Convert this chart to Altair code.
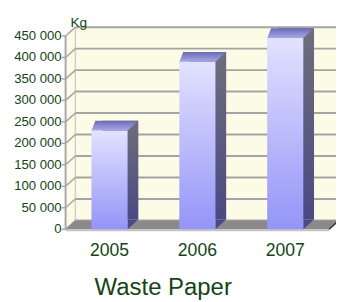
import altair as alt
import pandas as pd

# ---- data ----
years = ["2005", "2006", "2007"]
values = [230000, 390000, 445000]
tick_values = [0, 50000, 100000, 150000, 200000, 250000, 300000, 350000, 400000, 450000]
tick_labels = ["0", "50 000", "100 000", "150 000", "200 000", "250 000",
               "300 000", "350 000", "400 000", "450 000"]
unit_label = "Kg"
title_text = "Waste Paper"

# ---- styling / geometry ----
W, H = 270, 198
DX, DY = 10, -9      # depth of walls
BX, BY = 11, -10     # depth of bars
BAR_W = 37
HW = BAR_W / 2
TXT = "#154515"
FONT = "Liberation Sans"
WALL = "#fcfce6"
GRID = "#a4a4a4"

bars_df = pd.DataFrame({"year": years, "value": values})
ticks_df = pd.DataFrame({"v": tick_values, "label": tick_labels})
one = pd.DataFrame({"a": [0]})

yscale = alt.Scale(domain=[0, 450000], nice=False, zero=True)
xscale = alt.Scale(domain=years, paddingInner=0.4, paddingOuter=0.2)
X = alt.X("year:N", scale=xscale, axis=None)
Y = alt.Y("value:Q", scale=yscale, axis=None)
YT = alt.Y("v:Q", scale=yscale, axis=None)

def grad(c1, c2):
    return alt.Gradient(gradient="linear",
                        stops=[alt.GradientStop(color=c1, offset=0),
                               alt.GradientStop(color=c2, offset=1)],
                        x1=0, x2=0, y1=0, y2=1)

back_wall = alt.Chart(one).mark_rect(color=WALL).encode(
    x=alt.value(DX), x2=alt.value(W + DX + 20), y=alt.value(DY), y2=alt.value(H + DY))

left_wall = alt.Chart(one).mark_point(
    shape=f"M0,0 L{DX},{DY} L{DX},{H + DY} L0,{H} Z", size=4, filled=True,
    color=WALL, opacity=1, strokeWidth=0).encode(x=alt.value(0), y=alt.value(0))

back_edge = alt.Chart(one).mark_rule(color="#cfcfcf", strokeWidth=1.5).encode(
    x=alt.value(DX), y=alt.value(DY), y2=alt.value(H + DY))

back_grid = alt.Chart(ticks_df).mark_rule(color=GRID, strokeWidth=2, yOffset=DY).encode(
    x=alt.value(DX), x2=alt.value(W + DX + 20), y=YT)

side_grid = alt.Chart(ticks_df).mark_rule(color=GRID, strokeWidth=1.5, y2Offset=DY).encode(
    x=alt.value(0), x2=alt.value(DX), y=YT, y2="v:Q")

front_axis = alt.Chart(one).mark_rule(color="#a8a8a8", strokeWidth=2).encode(
    x=alt.value(0), y=alt.value(0), y2=alt.value(H))

tick_marks = alt.Chart(ticks_df).mark_rule(color=GRID, strokeWidth=1.5).encode(
    x=alt.value(-4), x2=alt.value(0), y=YT)

tick_text = alt.Chart(ticks_df).mark_text(font=FONT, fontSize=13.5, color=TXT,
                                          align="right", baseline="middle").encode(
    x=alt.value(-4), y=YT, text="label:N")

floor = alt.Chart(one).mark_point(
    shape=f"M0,0 L{W},0 L{W + DX},{DY} L{DX},{DY} Z", size=4, filled=True,
    color="#8a8a8a", opacity=1, strokeWidth=0).encode(x=alt.value(0), y=alt.value(H))

floor_front = alt.Chart(one).mark_rule(color="#c4c4c4", strokeWidth=2).encode(
    x=alt.value(0), x2=alt.value(W), y=alt.value(H + 1))

floor_end = alt.Chart(one).mark_rule(color=TXT, strokeWidth=1.5).encode(
    x=alt.value(W), x2=alt.value(W + DX), y=alt.value(H), y2=alt.value(H + DY))

base = alt.Chart(bars_df)

side = base.mark_bar(width=BAR_W, xOffset=BX, x2Offset=BX, yOffset=BY, y2Offset=BY,
                     color=grad("#6e6e7c", "#4a4a84")).encode(x=X, y=Y)

side_bottom = base.mark_point(
    shape=f"M{HW},0 L{HW},{BY} L{HW + BX},{BY} Z", size=4, filled=True,
    color="#4a4a84", opacity=1, strokeWidth=0).encode(x=X, y=alt.value(H))

front = base.mark_bar(width=BAR_W, color=grad("#e2e2ff", "#9494f8")).encode(x=X, y=Y)

top = base.mark_point(
    shape=f"M{-HW},0 L{HW},0 L{HW + BX},{BY} L{-HW + 4},{BY} Z", size=4, filled=True,
    color=grad("#6a6ab4", "#a8a8e8"), opacity=1, strokeWidth=0).encode(x=X, y=Y)

x_labels = base.mark_text(font=FONT, fontSize=18, color=TXT, align="center",
                          baseline="alphabetic").encode(
    x=X, y=alt.value(H + 27), text="year:N")

kg = alt.Chart(one).mark_text(text=unit_label, font=FONT, fontSize=14, color=TXT,
                              align="left", baseline="alphabetic").encode(
    x=alt.value(5), y=alt.value(-9))

title = alt.Chart(one).mark_text(text=title_text, font=FONT, fontSize=24.5, color=TXT,
                                 align="center", baseline="alphabetic").encode(
    x=alt.value(100), y=alt.value(H + 67))

chart = alt.layer(back_wall, left_wall, back_edge, back_grid, side_grid, front_axis,
                  tick_marks, tick_text, floor, floor_front, floor_end, side,
                  side_bottom, front, top, x_labels, kg, title).properties(
    width=W, height=H,
    autosize=alt.AutoSizeParams(type="none"),
    padding={"left": 59, "top": 25, "right": 7, "bottom": 75},
).configure_view(stroke=None).configure(background="white")

chart.save("out.html", embed_options={"renderer": "svg", "actions": False})
